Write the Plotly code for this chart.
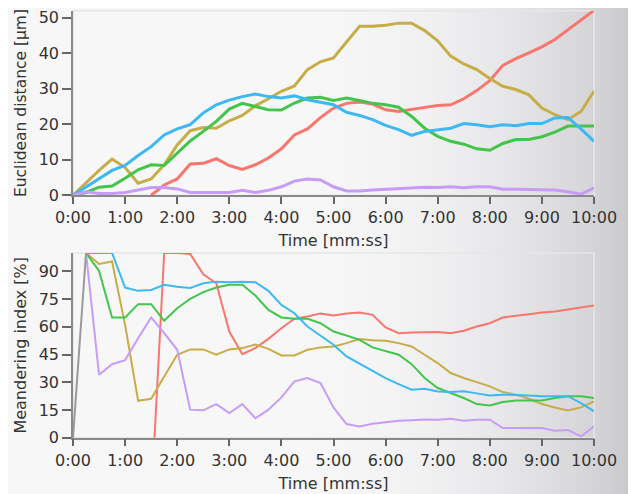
import plotly.graph_objects as go

# ---------------- data ----------------
time_s = [0, 15, 30, 45, 60, 75, 90, 105, 120, 135, 150, 165, 180, 195, 210, 225,
          240, 255, 270, 285, 300, 315, 330, 345, 360, 375, 390, 405, 420, 435,
          450, 465, 480, 495, 510, 525, 540, 555, 570, 585, 600]

tick_vals = [0, 60, 120, 180, 240, 300, 360, 420, 480, 540, 600]
tick_text = ["0:00", "1:00", "2:00", "3:00", "4:00", "5:00", "6:00", "7:00", "8:00", "9:00", "10:00"]

dist_ticks = [0, 10, 20, 30, 40, 50]
mi_ticks = [0, 15, 30, 45, 60, 75, 90]

# Euclidean distance [µm]
dist_red = [None, None, None, None, None, None,
            0, 2.9, 4.6, 8.8, 9.0, 10.3, 8.4, 7.3, 8.6, 10.5,
            13.1, 17, 18.7, 21.9, 24.6, 25.9, 26.3, 25.7, 24.1, 23.6,
            24.2, 24.8, 25.3, 25.5, 27.2, 29.5, 32.3, 36.6, 38.5, 40.1,
            41.8, 43.9, 46.7, 49.5, 52.1]
dist_gold = [0, 3.5, 7, 10.2, 7.8, 3.4, 4.6, 8.6, 14.2, 18.2,
             19.1, 18.9, 21, 22.5, 25.2, 27.2, 29.3, 30.8, 35.4, 37.6,
             38.7, 43.2, 47.6, 47.6, 47.9, 48.5, 48.5, 46.4, 43.5, 39.2,
             37, 35.4, 32.9, 30.7, 29.8, 28.3, 24.6, 22.7, 21.3, 23.6, 29.3]
dist_green = [0, 0.8, 2.3, 2.6, 4.8, 7.2, 8.6, 8.4, 11.9, 15.3,
              18, 20.8, 24.3, 25.9, 25, 24.1, 24, 26, 27.4, 27.6,
              26.7, 27.4, 26.7, 25.9, 25.5, 24.8, 22.2, 18.9, 16.6, 15.2,
              14.4, 13.1, 12.7, 14.6, 15.7, 15.7, 16.5, 17.8, 19.5, 19.5, 19.5]
dist_blue = [0, 2.4, 4.6, 7, 8.4, 11.2, 13.7, 17, 18.7, 19.9,
             23.2, 25.5, 26.8, 27.8, 28.5, 27.8, 27.4, 28, 26.9, 26.3,
             25.5, 23.4, 22.5, 21.3, 19.7, 18.5, 16.9, 18, 18.4, 18.9,
             20.2, 19.9, 19.3, 19.9, 19.6, 20.2, 20.2, 21.8, 21.9, 18.7, 15.2]
dist_purple = [0, 1.0, 0.5, 0.5, 0.8, 1.4, 2.2, 2.2, 1.8, 0.8,
               0.8, 1.0, 0.8, 1.4, 0.8, 1.4, 2.4, 4.0, 4.6, 4.3,
               2.4, 1.2, 1.2, 1.5, 1.7, 2.0, 2.1, 2.3, 2.2, 2.4,
               2.1, 2.4, 2.4, 1.7, 1.7, 1.7, 1.5, 1.5, 1.0, 0.3, 2.1]

# Meandering index [%]
mi_red = [None, None, None, None, None, None,
          -35, 100, 100, 99.5, 88.5, 83.6, 57.5, 45.2, 48.5, 53.5,
          59.3, 64.4, 65.6, 67.3, 66.2, 67.3, 67.8, 66.5, 59.7, 56.6,
          56.9, 57.2, 57.2, 56.6, 57.9, 60.2, 62, 65.1, 66.2, 66.9,
          67.8, 68.3, 69.4, 70.5, 71.6]
mi_gold = [None, 100, 94.1, 95.4, 61.1, 20, 21.1, 33.2, 44.9, 47.8,
           47.8, 44.9, 47.8, 48.5, 50.5, 48.1, 44.5, 44.5, 47.6, 48.9,
           49.4, 51.2, 53.4, 52.8, 52.5, 51.2, 49.4, 44.9, 40.4, 35,
           32.3, 30.1, 27.8, 24.7, 23.3, 21.1, 18.2, 16.4, 14.8, 16.4, 19.7]
mi_green = [None, 100, 90.3, 65.1, 65.1, 72.3, 72.3, 63.3, 70.1, 75.2,
            78.8, 81.3, 82.8, 82.8, 77, 69.2, 65.1, 64.4, 64.4, 62,
            57.5, 55.3, 53, 48.9, 46.7, 44.9, 39.8, 32.3, 26.9, 24.2,
            21.5, 18.2, 17.5, 19.3, 20.2, 20.2, 20.2, 21.5, 22.5, 22.5, 21.5]
mi_blue = [None, 100, 100, 100, 81.3, 79.5, 80, 82.8, 81.7, 81.1,
           83.6, 84.5, 84.1, 84.5, 84.2, 79.5, 71.9, 67.4, 60.2, 55.3,
           50.3, 44, 40, 36.2, 32.3, 29, 26, 26.5, 25, 24.7,
           25.1, 24, 22.9, 23.3, 23.3, 22.9, 22.4, 22.5, 22.5, 18.7, 14.3]
mi_purple = [None, 100, 34.1, 39.8, 42, 53.9, 65.1, 56.6, 47.6, 15.2,
             14.8, 18.2, 13.3, 18.2, 10.5, 15.2, 21.8, 30.5, 32.3, 29.6,
             16.4, 7.4, 6.1, 7.6, 8.5, 9.2, 9.5, 9.9, 9.7, 10.3,
             9.2, 9.7, 9.7, 5.2, 5.2, 5.2, 5.2, 3.8, 4.2, 0.7, 6.1]
mi_start_time = [0, 15]
mi_start = [0, 100]

# ---------------- styling ----------------
COLORS = {"red": "#f8766d", "gold": "#c7ad47", "green": "#43c54c",
          "blue": "#3db8f5", "purple": "#c79cf8", "gray": "#9a9a9a"}
FONT = "DejaVu Sans, Verdana, sans-serif"
TXT = "#333333"
W, H = 636, 494
OFF = 8  # page body margin offset
L, R = 73 - OFF, 594 - OFF
TOP_Y = (10.7 - OFF, 195.3 - OFF)
BOT_Y = (253.0 - OFF, 437.7 - OFF)

fig = go.Figure()

top_series = [("red", dist_red), ("gold", dist_gold), ("green", dist_green),
              ("blue", dist_blue), ("purple", dist_purple)]
for name, vals in top_series:
    fig.add_trace(go.Scatter(x=time_s, y=vals, mode="lines", xaxis="x", yaxis="y",
                             line=dict(color=COLORS[name], width=3), showlegend=False))

bot_series = [("red", mi_red), ("gold", mi_gold), ("green", mi_green),
              ("blue", mi_blue), ("purple", mi_purple)]
for name, vals in bot_series:
    fig.add_trace(go.Scatter(x=time_s, y=vals, mode="lines", xaxis="x2", yaxis="y2",
                             line=dict(color=COLORS[name], width=2), showlegend=False))
fig.add_trace(go.Scatter(x=mi_start_time, y=mi_start, mode="lines", xaxis="x2", yaxis="y2",
                         line=dict(color=COLORS["gray"], width=2), showlegend=False))

# background gradient (vertical stripes)
shapes = []
step = 4
for x0 in range(0, W, step):
    xc = x0 + step / 2 + OFF
    t = min(1.0, max(0.0, (xc - 250) / (636 - 250)))
    c = 247 - 47 * t ** 2.5
    r = int(round(c)); b = int(round(min(255, c + 3 * t)))
    shapes.append(dict(type="rect", xref="paper", yref="paper",
                       x0=x0 / W, x1=(x0 + step + 0.5) / W, y0=0, y1=1,
                       fillcolor=f"rgb({r},{r},{b})", line=dict(width=0), layer="below"))
# light frames around plot areas
for xr, yr in (("x", "y"), ("x2", "y2")):
    shapes.append(dict(type="rect", xref=f"{xr} domain", yref=f"{yr} domain",
                       x0=0, x1=1, y0=0, y1=1, fillcolor="rgba(0,0,0,0)",
                       line=dict(color="#e6e6e6", width=1.5), layer="below"))

xdom = [L / W, R / W]
ydom_top = [1 - TOP_Y[1] / H, 1 - TOP_Y[0] / H]
ydom_bot = [1 - BOT_Y[1] / H, 1 - BOT_Y[0] / H]

axis_common = dict(showline=True, linecolor="#8a8a8a", linewidth=1.5, ticks="outside",
                   tickcolor="#666666", tickwidth=1.5, showgrid=False, zeroline=False,
                   tickfont=dict(family=FONT, size=16, color=TXT))

xaxis_common = dict(axis_common, range=[0, 600], tickmode="array", tickvals=tick_vals,
                    ticktext=tick_text, ticklen=7, domain=xdom, ticklabelstandoff=0,
                    title=dict(text="Time [mm:ss]", font=dict(family=FONT, size=16, color=TXT),
                               standoff=9))

fig.update_layout(
    width=W, height=H,
    margin=dict(l=0, r=0, t=0, b=0, autoexpand=False),
    paper_bgcolor="#f7f7f7", plot_bgcolor="rgba(0,0,0,0)",
    shapes=shapes,
    xaxis=dict(xaxis_common, anchor="y"),
    yaxis=dict(axis_common, domain=ydom_top, range=[0, 52], tickmode="array", tickvals=dist_ticks,
               ticklen=9, anchor="x",
               title=dict(text="Euclidean distance [µm]",
                          font=dict(family=FONT, size=15.5, color=TXT), standoff=8)),
    xaxis2=dict(xaxis_common, anchor="y2"),
    yaxis2=dict(axis_common, domain=ydom_bot, range=[0, 100], tickmode="array", tickvals=mi_ticks,
                ticklen=9, anchor="x2",
                title=dict(text="Meandering index [%]",
                           font=dict(family=FONT, size=16, color=TXT), standoff=8)),
)

fig.write_html("out.html")
